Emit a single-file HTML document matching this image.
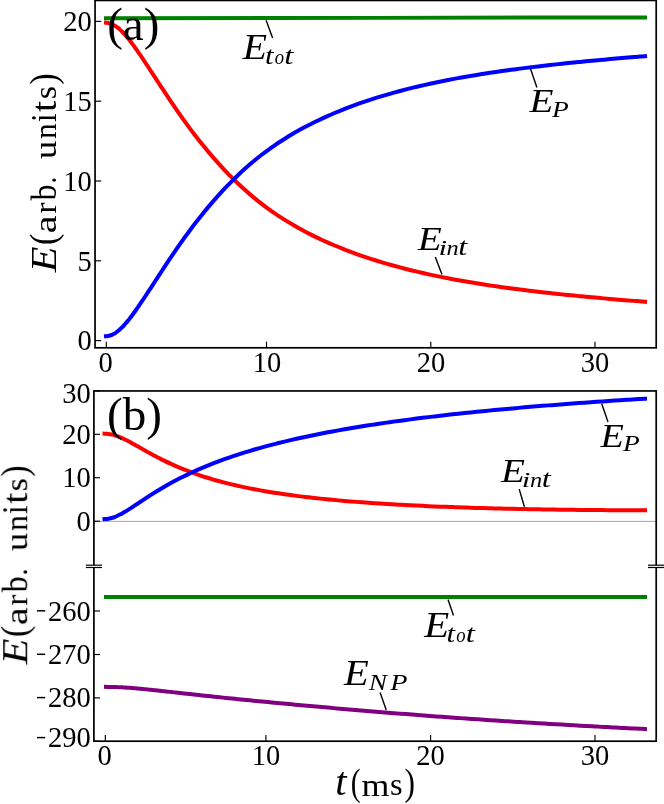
<!DOCTYPE html>
<html><head><meta charset="utf-8"><title>Energy plots</title>
<style>html,body{margin:0;padding:0;background:#fff;}body{width:664px;height:804px;overflow:hidden;}svg{display:block;}text{font-family:"Liberation Serif",serif;fill:#000;}</style>
</head><body>
<svg width="664" height="804" viewBox="0 0 664 804">
<defs><filter id="g" x="0" y="0" width="664" height="804" filterUnits="userSpaceOnUse" color-interpolation-filters="sRGB"><feOffset dx="0" dy="0"/></filter></defs>
<rect x="0" y="0" width="664" height="804" fill="#fff"/>
<g filter="url(#g)">
<path d="M106.00 18.35 C195.83 18.19 555.17 17.56 645.00 17.40" fill="none" stroke="#008000" stroke-width="4.00" stroke-linecap="square" stroke-linejoin="round"/>
<path d="M106.00 22.79 C106.33 22.82 107.33 22.86 108.00 22.96 C108.67 23.07 109.33 23.22 110.00 23.41 C110.67 23.61 111.33 23.86 112.00 24.15 C112.67 24.43 113.33 24.77 114.00 25.14 C114.67 25.52 115.33 25.94 116.00 26.40 C116.67 26.86 117.33 27.36 118.00 27.89 C118.67 28.43 119.33 29.00 120.00 29.61 C120.67 30.21 121.33 30.85 122.00 31.52 C122.67 32.19 123.33 32.89 124.00 33.62 C124.67 34.34 125.33 35.09 126.00 35.87 C126.67 36.65 127.33 37.45 128.00 38.27 C128.67 39.09 129.33 39.93 130.00 40.79 C130.67 41.64 131.33 42.52 132.00 43.41 C132.67 44.30 133.33 45.21 134.00 46.13 C134.67 47.04 135.33 47.98 136.00 48.92 C136.67 49.86 137.33 50.81 138.00 51.78 C138.67 52.74 139.33 53.71 140.00 54.69 C140.67 55.66 141.33 56.65 142.00 57.64 C142.67 58.63 143.33 59.63 144.00 60.63 C144.67 61.63 145.33 62.63 146.00 63.64 C146.67 64.65 147.33 65.66 148.00 66.68 C148.67 67.69 149.33 68.71 150.00 69.73 C150.67 70.75 151.33 71.77 152.00 72.79 C152.67 73.81 153.33 74.83 154.00 75.85 C154.67 76.87 155.33 77.89 156.00 78.92 C156.67 79.94 157.33 80.96 158.00 81.98 C158.67 83.00 159.33 84.02 160.00 85.04 C160.67 86.05 161.33 87.07 162.00 88.09 C162.67 89.10 163.33 90.11 164.00 91.13 C164.67 92.14 164.67 92.15 166.00 94.15 C167.33 96.16 170.00 100.18 172.00 103.13 C174.00 106.09 176.00 109.02 178.00 111.90 C180.00 114.78 182.00 117.61 184.00 120.40 C186.00 123.18 188.00 125.92 190.00 128.60 C192.00 131.29 194.00 133.92 196.00 136.51 C198.00 139.09 200.00 141.62 202.00 144.10 C204.00 146.58 206.00 149.01 208.00 151.40 C210.00 153.78 212.00 156.11 214.00 158.39 C216.00 160.68 218.00 162.92 220.00 165.11 C222.00 167.30 224.00 169.44 226.00 171.54 C228.00 173.63 230.00 175.68 232.00 177.68 C234.00 179.67 236.00 181.62 238.00 183.53 C240.00 185.43 242.00 187.28 244.00 189.09 C246.00 190.90 248.00 192.66 250.00 194.37 C252.00 196.09 254.00 197.75 256.00 199.38 C258.00 201.00 260.00 202.58 262.00 204.12 C264.00 205.65 266.00 207.14 268.00 208.60 C270.00 210.05 272.00 211.46 274.00 212.84 C276.00 214.22 278.00 215.55 280.00 216.86 C282.00 218.17 284.00 219.43 286.00 220.67 C288.00 221.91 290.00 223.12 292.00 224.30 C294.00 225.47 296.00 226.62 298.00 227.74 C300.00 228.86 302.00 229.95 304.00 231.02 C306.00 232.09 308.00 233.12 310.00 234.14 C312.00 235.16 314.00 236.15 316.00 237.12 C318.00 238.09 320.00 239.03 322.00 239.96 C324.00 240.88 326.00 241.78 328.00 242.67 C330.00 243.55 332.00 244.41 334.00 245.26 C336.00 246.10 338.00 246.93 340.00 247.73 C342.00 248.54 344.00 249.33 346.00 250.10 C348.00 250.87 350.00 251.63 352.00 252.37 C354.00 253.11 356.00 253.83 358.00 254.54 C360.00 255.24 362.00 255.94 364.00 256.62 C366.00 257.29 368.00 257.96 370.00 258.61 C372.00 259.26 374.00 259.89 376.00 260.52 C378.00 261.14 380.00 261.75 382.00 262.35 C384.00 262.95 386.00 263.53 388.00 264.11 C390.00 264.68 392.00 265.24 394.00 265.80 C396.00 266.35 398.00 266.89 400.00 267.42 C402.00 267.94 404.00 268.46 406.00 268.97 C408.00 269.48 410.00 269.98 412.00 270.47 C414.00 270.95 416.00 271.43 418.00 271.90 C420.00 272.37 422.00 272.83 424.00 273.28 C426.00 273.73 428.00 274.18 430.00 274.61 C432.00 275.04 434.00 275.47 436.00 275.89 C438.00 276.30 440.00 276.71 442.00 277.11 C444.00 277.51 446.00 277.91 448.00 278.29 C450.00 278.68 452.00 279.06 454.00 279.43 C456.00 279.80 458.00 280.16 460.00 280.52 C462.00 280.88 464.00 281.23 466.00 281.57 C468.00 281.91 470.00 282.25 472.00 282.58 C474.00 282.92 476.00 283.24 478.00 283.56 C480.00 283.88 482.00 284.20 484.00 284.50 C486.00 284.81 488.00 285.12 490.00 285.42 C492.00 285.71 494.00 286.01 496.00 286.30 C498.00 286.59 500.00 286.87 502.00 287.15 C504.00 287.43 506.00 287.70 508.00 287.97 C510.00 288.24 512.00 288.51 514.00 288.77 C516.00 289.03 518.00 289.29 520.00 289.55 C522.00 289.80 524.00 290.05 526.00 290.30 C528.00 290.54 530.00 290.78 532.00 291.02 C534.00 291.26 536.00 291.50 538.00 291.73 C540.00 291.96 542.00 292.19 544.00 292.42 C546.00 292.64 548.00 292.87 550.00 293.09 C552.00 293.31 554.00 293.52 556.00 293.74 C558.00 293.95 560.00 294.16 562.00 294.37 C564.00 294.58 566.00 294.78 568.00 294.99 C570.00 295.19 572.00 295.39 574.00 295.59 C576.00 295.78 578.00 295.98 580.00 296.17 C582.00 296.36 584.00 296.56 586.00 296.74 C588.00 296.93 590.00 297.12 592.00 297.30 C594.00 297.49 596.00 297.67 598.00 297.85 C600.00 298.03 602.00 298.21 604.00 298.38 C606.00 298.56 608.00 298.73 610.00 298.90 C612.00 299.07 614.00 299.24 616.00 299.41 C618.00 299.58 620.00 299.75 622.00 299.91 C624.00 300.08 626.00 300.24 628.00 300.40 C630.00 300.56 632.00 300.72 634.00 300.88 C636.00 301.04 638.17 301.21 640.00 301.35 C641.83 301.50 644.17 301.68 645.00 301.74" fill="none" stroke="#ff0000" stroke-width="4.00" stroke-linecap="square" stroke-linejoin="round"/>
<path d="M106.00 336.16 C106.33 336.13 107.33 336.09 108.00 335.98 C108.67 335.88 109.33 335.73 110.00 335.53 C110.67 335.33 111.33 335.08 112.00 334.79 C112.67 334.50 113.33 334.17 114.00 333.79 C114.67 333.41 115.33 332.99 116.00 332.53 C116.67 332.07 117.33 331.57 118.00 331.04 C118.67 330.50 119.33 329.92 120.00 329.32 C120.67 328.71 121.33 328.07 122.00 327.40 C122.67 326.73 123.33 326.03 124.00 325.30 C124.67 324.58 125.33 323.82 126.00 323.04 C126.67 322.27 127.33 321.46 128.00 320.64 C128.67 319.82 129.33 318.98 130.00 318.12 C130.67 317.26 131.33 316.38 132.00 315.49 C132.67 314.60 133.33 313.69 134.00 312.77 C134.67 311.85 135.33 310.92 136.00 309.98 C136.67 309.03 137.33 308.08 138.00 307.11 C138.67 306.15 139.33 305.18 140.00 304.20 C140.67 303.22 141.33 302.23 142.00 301.24 C142.67 300.25 143.33 299.25 144.00 298.25 C144.67 297.25 145.33 296.24 146.00 295.23 C146.67 294.22 147.33 293.21 148.00 292.19 C148.67 291.18 149.33 290.16 150.00 289.14 C150.67 288.12 151.33 287.10 152.00 286.08 C152.67 285.06 153.33 284.03 154.00 283.01 C154.67 281.99 155.33 280.96 156.00 279.94 C156.67 278.92 157.33 277.90 158.00 276.88 C158.67 275.85 159.33 274.83 160.00 273.81 C160.67 272.80 161.33 271.78 162.00 270.76 C162.67 269.74 163.33 268.73 164.00 267.72 C164.67 266.70 164.67 266.69 166.00 264.68 C167.33 262.68 170.00 258.65 172.00 255.69 C174.00 252.73 176.00 249.80 178.00 246.92 C180.00 244.04 182.00 241.20 184.00 238.41 C186.00 235.62 188.00 232.88 190.00 230.19 C192.00 227.50 194.00 224.86 196.00 222.28 C198.00 219.69 200.00 217.15 202.00 214.67 C204.00 212.18 206.00 209.75 208.00 207.36 C210.00 204.98 212.00 202.64 214.00 200.36 C216.00 198.07 218.00 195.83 220.00 193.63 C222.00 191.44 224.00 189.29 226.00 187.19 C228.00 185.09 230.00 183.04 232.00 181.04 C234.00 179.04 236.00 177.09 238.00 175.18 C240.00 173.27 242.00 171.42 244.00 169.60 C246.00 167.79 248.00 166.03 250.00 164.31 C252.00 162.59 254.00 160.92 256.00 159.29 C258.00 157.67 260.00 156.08 262.00 154.54 C264.00 153.00 266.00 151.51 268.00 150.05 C270.00 148.59 272.00 147.18 274.00 145.80 C276.00 144.42 278.00 143.08 280.00 141.77 C282.00 140.46 284.00 139.19 286.00 137.94 C288.00 136.70 290.00 135.49 292.00 134.31 C294.00 133.13 296.00 131.98 298.00 130.85 C300.00 129.73 302.00 128.63 304.00 127.56 C306.00 126.49 308.00 125.45 310.00 124.43 C312.00 123.41 314.00 122.42 316.00 121.44 C318.00 120.47 320.00 119.52 322.00 118.59 C324.00 117.66 326.00 116.76 328.00 115.87 C330.00 114.98 332.00 114.12 334.00 113.27 C336.00 112.42 338.00 111.59 340.00 110.78 C342.00 109.97 344.00 109.18 346.00 108.40 C348.00 107.63 350.00 106.87 352.00 106.13 C354.00 105.38 356.00 104.66 358.00 103.95 C360.00 103.23 362.00 102.54 364.00 101.86 C366.00 101.17 368.00 100.51 370.00 99.85 C372.00 99.20 374.00 98.56 376.00 97.93 C378.00 97.30 380.00 96.69 382.00 96.09 C384.00 95.49 386.00 94.90 388.00 94.32 C390.00 93.74 392.00 93.18 394.00 92.62 C396.00 92.07 398.00 91.52 400.00 90.99 C402.00 90.46 404.00 89.93 406.00 89.42 C408.00 88.91 410.00 88.41 412.00 87.92 C414.00 87.42 416.00 86.94 418.00 86.47 C420.00 86.00 422.00 85.53 424.00 85.08 C426.00 84.62 428.00 84.18 430.00 83.74 C432.00 83.30 434.00 82.87 436.00 82.45 C438.00 82.03 440.00 81.62 442.00 81.21 C444.00 80.81 446.00 80.41 448.00 80.02 C450.00 79.63 452.00 79.25 454.00 78.88 C456.00 78.50 458.00 78.14 460.00 77.77 C462.00 77.41 464.00 77.06 466.00 76.71 C468.00 76.36 470.00 76.02 472.00 75.69 C474.00 75.35 476.00 75.02 478.00 74.70 C480.00 74.37 482.00 74.06 484.00 73.74 C486.00 73.43 488.00 73.12 490.00 72.82 C492.00 72.52 494.00 72.22 496.00 71.93 C498.00 71.64 500.00 71.35 502.00 71.07 C504.00 70.78 506.00 70.51 508.00 70.23 C510.00 69.96 512.00 69.69 514.00 69.42 C516.00 69.16 518.00 68.89 520.00 68.64 C522.00 68.38 524.00 68.13 526.00 67.88 C528.00 67.63 530.00 67.38 532.00 67.14 C534.00 66.89 536.00 66.65 538.00 66.42 C540.00 66.18 542.00 65.95 544.00 65.72 C546.00 65.49 548.00 65.26 550.00 65.04 C552.00 64.82 554.00 64.60 556.00 64.38 C558.00 64.16 560.00 63.95 562.00 63.74 C564.00 63.52 566.00 63.31 568.00 63.11 C570.00 62.90 572.00 62.70 574.00 62.50 C576.00 62.29 578.00 62.10 580.00 61.90 C582.00 61.70 584.00 61.51 586.00 61.32 C588.00 61.12 590.00 60.93 592.00 60.75 C594.00 60.56 596.00 60.37 598.00 60.19 C600.00 60.01 602.00 59.82 604.00 59.65 C606.00 59.47 608.00 59.29 610.00 59.11 C612.00 58.94 614.00 58.76 616.00 58.59 C618.00 58.42 620.00 58.25 622.00 58.08 C624.00 57.91 626.00 57.74 628.00 57.58 C630.00 57.41 632.00 57.25 634.00 57.09 C636.00 56.93 638.17 56.75 640.00 56.61 C641.83 56.46 644.17 56.28 645.00 56.21" fill="none" stroke="#0000ff" stroke-width="4.00" stroke-linecap="square" stroke-linejoin="round"/>
<rect x="95.05" y="0.45" width="561.15" height="347.35" fill="none" stroke="#000" stroke-width="1.70"/>
<line x1="106.30" y1="347.80" x2="106.30" y2="341.65" stroke="#000" stroke-width="1.15"/>
<line x1="266.50" y1="347.80" x2="266.50" y2="341.65" stroke="#000" stroke-width="1.15"/>
<line x1="430.80" y1="347.80" x2="430.80" y2="341.65" stroke="#000" stroke-width="1.15"/>
<line x1="595.00" y1="347.80" x2="595.00" y2="341.65" stroke="#000" stroke-width="1.15"/>
<line x1="95.05" y1="340.60" x2="101.20" y2="340.60" stroke="#000" stroke-width="1.15"/>
<line x1="95.05" y1="260.80" x2="101.20" y2="260.80" stroke="#000" stroke-width="1.15"/>
<line x1="95.05" y1="181.00" x2="101.20" y2="181.00" stroke="#000" stroke-width="1.15"/>
<line x1="95.05" y1="101.20" x2="101.20" y2="101.20" stroke="#000" stroke-width="1.15"/>
<line x1="95.05" y1="21.40" x2="101.20" y2="21.40" stroke="#000" stroke-width="1.15"/>
<text x="105.70" y="371.50" font-size="28.50" text-anchor="middle">0</text>
<text x="267.00" y="371.50" font-size="28.50" text-anchor="middle">10</text>
<text x="431.00" y="371.50" font-size="28.50" text-anchor="middle">20</text>
<text x="595.00" y="371.50" font-size="28.50" text-anchor="middle">30</text>
<text x="91.80" y="350.40" font-size="28.50" text-anchor="end">0</text>
<text x="91.80" y="270.60" font-size="28.50" text-anchor="end">5</text>
<text x="91.80" y="190.80" font-size="28.50" text-anchor="end">10</text>
<text x="91.80" y="111.00" font-size="28.50" text-anchor="end">15</text>
<text x="91.80" y="31.20" font-size="28.50" text-anchor="end">20</text>
<text x="107.2" y="39.6" font-size="47">(a)</text>
<line x1="93.90" y1="521.4" x2="656.20" y2="521.4" stroke="#a6a6a6" stroke-width="1.0"/>
<path d="M106.00 597.10 C195.83 597.08 555.17 596.98 645.00 596.95" fill="none" stroke="#008000" stroke-width="4.00" stroke-linecap="square" stroke-linejoin="round"/>
<path d="M106.00 686.87 C106.33 686.87 107.33 686.88 108.00 686.88 C108.67 686.88 109.33 686.89 110.00 686.90 C110.67 686.91 111.33 686.92 112.00 686.93 C112.67 686.95 113.33 686.97 114.00 686.99 C114.67 687.00 115.33 687.03 116.00 687.05 C116.67 687.07 117.33 687.10 118.00 687.13 C118.67 687.16 119.33 687.19 120.00 687.22 C120.67 687.25 121.33 687.29 122.00 687.33 C122.67 687.36 123.33 687.40 124.00 687.44 C124.67 687.48 125.33 687.53 126.00 687.57 C126.67 687.62 127.33 687.66 128.00 687.71 C128.67 687.76 129.33 687.81 130.00 687.86 C130.67 687.91 131.33 687.97 132.00 688.02 C132.67 688.08 133.33 688.13 134.00 688.19 C134.67 688.25 135.33 688.30 136.00 688.36 C136.67 688.42 137.33 688.48 138.00 688.54 C138.67 688.60 139.33 688.67 140.00 688.73 C140.67 688.79 141.33 688.86 142.00 688.92 C142.67 688.99 143.33 689.05 144.00 689.12 C144.67 689.18 145.33 689.25 146.00 689.32 C146.67 689.38 147.33 689.45 148.00 689.52 C148.67 689.59 149.33 689.66 150.00 689.73 C150.67 689.80 151.33 689.87 152.00 689.94 C152.67 690.01 153.33 690.08 154.00 690.15 C154.67 690.22 155.33 690.29 156.00 690.36 C156.67 690.43 157.33 690.51 158.00 690.58 C158.67 690.65 159.33 690.72 160.00 690.79 C160.67 690.87 161.33 690.94 162.00 691.01 C162.67 691.08 163.33 691.16 164.00 691.23 C164.67 691.30 164.67 691.30 166.00 691.45 C167.33 691.60 170.00 691.89 172.00 692.11 C174.00 692.33 176.00 692.55 178.00 692.78 C180.00 693.00 182.00 693.22 184.00 693.44 C186.00 693.66 188.00 693.88 190.00 694.10 C192.00 694.31 194.00 694.53 196.00 694.75 C198.00 694.97 200.00 695.18 202.00 695.40 C204.00 695.61 206.00 695.83 208.00 696.04 C210.00 696.25 212.00 696.47 214.00 696.68 C216.00 696.89 218.00 697.10 220.00 697.30 C222.00 697.51 224.00 697.72 226.00 697.93 C228.00 698.13 230.00 698.34 232.00 698.54 C234.00 698.74 236.00 698.95 238.00 699.15 C240.00 699.35 242.00 699.55 244.00 699.75 C246.00 699.95 248.00 700.15 250.00 700.35 C252.00 700.54 254.00 700.74 256.00 700.93 C258.00 701.13 260.00 701.32 262.00 701.52 C264.00 701.71 266.00 701.90 268.00 702.10 C270.00 702.29 272.00 702.48 274.00 702.67 C276.00 702.86 278.00 703.05 280.00 703.24 C282.00 703.42 284.00 703.61 286.00 703.80 C288.00 703.99 290.00 704.17 292.00 704.36 C294.00 704.54 296.00 704.73 298.00 704.91 C300.00 705.09 302.00 705.28 304.00 705.46 C306.00 705.64 308.00 705.82 310.00 706.00 C312.00 706.18 314.00 706.36 316.00 706.54 C318.00 706.72 320.00 706.90 322.00 707.07 C324.00 707.25 326.00 707.43 328.00 707.60 C330.00 707.78 332.00 707.96 334.00 708.13 C336.00 708.30 338.00 708.48 340.00 708.65 C342.00 708.82 344.00 709.00 346.00 709.17 C348.00 709.34 350.00 709.51 352.00 709.68 C354.00 709.85 356.00 710.02 358.00 710.19 C360.00 710.36 362.00 710.53 364.00 710.70 C366.00 710.87 368.00 711.03 370.00 711.20 C372.00 711.37 374.00 711.53 376.00 711.70 C378.00 711.86 380.00 712.02 382.00 712.19 C384.00 712.35 386.00 712.51 388.00 712.67 C390.00 712.84 392.00 713.00 394.00 713.16 C396.00 713.32 398.00 713.47 400.00 713.63 C402.00 713.79 404.00 713.95 406.00 714.10 C408.00 714.26 410.00 714.42 412.00 714.57 C414.00 714.73 416.00 714.88 418.00 715.03 C420.00 715.19 422.00 715.34 424.00 715.49 C426.00 715.64 428.00 715.79 430.00 715.94 C432.00 716.09 434.00 716.24 436.00 716.39 C438.00 716.53 440.00 716.68 442.00 716.83 C444.00 716.97 446.00 717.12 448.00 717.26 C450.00 717.41 452.00 717.55 454.00 717.69 C456.00 717.83 458.00 717.98 460.00 718.12 C462.00 718.26 464.00 718.40 466.00 718.54 C468.00 718.68 470.00 718.82 472.00 718.95 C474.00 719.09 476.00 719.23 478.00 719.36 C480.00 719.50 482.00 719.63 484.00 719.77 C486.00 719.90 488.00 720.04 490.00 720.17 C492.00 720.30 494.00 720.43 496.00 720.57 C498.00 720.70 500.00 720.83 502.00 720.96 C504.00 721.09 506.00 721.21 508.00 721.34 C510.00 721.47 512.00 721.60 514.00 721.73 C516.00 721.85 518.00 721.98 520.00 722.10 C522.00 722.23 524.00 722.35 526.00 722.48 C528.00 722.60 530.00 722.72 532.00 722.84 C534.00 722.97 536.00 723.09 538.00 723.21 C540.00 723.33 542.00 723.45 544.00 723.57 C546.00 723.69 548.00 723.81 550.00 723.92 C552.00 724.04 554.00 724.16 556.00 724.27 C558.00 724.39 560.00 724.51 562.00 724.62 C564.00 724.74 566.00 724.85 568.00 724.96 C570.00 725.08 572.00 725.19 574.00 725.30 C576.00 725.42 578.00 725.53 580.00 725.64 C582.00 725.75 584.00 725.86 586.00 725.97 C588.00 726.08 590.00 726.19 592.00 726.30 C594.00 726.41 596.00 726.51 598.00 726.62 C600.00 726.73 602.00 726.84 604.00 726.94 C606.00 727.05 608.00 727.15 610.00 727.26 C612.00 727.36 614.00 727.47 616.00 727.57 C618.00 727.67 620.00 727.78 622.00 727.88 C624.00 727.98 626.00 728.08 628.00 728.18 C630.00 728.29 632.00 728.39 634.00 728.49 C636.00 728.59 638.17 728.69 640.00 728.78 C641.83 728.88 644.17 728.99 645.00 729.03" fill="none" stroke="#800080" stroke-width="4.00" stroke-linecap="square" stroke-linejoin="round"/>
<path d="M104.50 433.63 C104.83 433.64 105.83 433.66 106.50 433.70 C107.17 433.75 107.83 433.81 108.50 433.90 C109.17 433.99 109.83 434.10 110.50 434.23 C111.17 434.36 111.83 434.51 112.50 434.67 C113.17 434.84 113.83 435.02 114.50 435.23 C115.17 435.43 115.83 435.65 116.50 435.88 C117.17 436.11 117.83 436.36 118.50 436.62 C119.17 436.88 119.83 437.15 120.50 437.44 C121.17 437.72 121.83 438.02 122.50 438.33 C123.17 438.63 123.83 438.95 124.50 439.27 C125.17 439.60 125.83 439.93 126.50 440.27 C127.17 440.61 127.83 440.96 128.50 441.31 C129.17 441.66 129.83 442.02 130.50 442.38 C131.17 442.74 131.83 443.11 132.50 443.48 C133.17 443.84 133.83 444.22 134.50 444.59 C135.17 444.97 135.83 445.34 136.50 445.72 C137.17 446.10 137.83 446.48 138.50 446.86 C139.17 447.23 139.83 447.61 140.50 447.99 C141.17 448.37 141.83 448.75 142.50 449.13 C143.17 449.50 143.83 449.88 144.50 450.26 C145.17 450.63 145.83 451.00 146.50 451.38 C147.17 451.75 147.83 452.12 148.50 452.49 C149.17 452.85 149.83 453.22 150.50 453.58 C151.17 453.95 151.83 454.31 152.50 454.67 C153.17 455.03 153.83 455.38 154.50 455.74 C155.17 456.09 155.83 456.44 156.50 456.79 C157.17 457.14 157.83 457.48 158.50 457.82 C159.17 458.17 159.83 458.51 160.50 458.84 C161.17 459.18 161.83 459.51 162.50 459.84 C163.17 460.17 163.17 460.19 164.50 460.83 C165.83 461.47 168.50 462.75 170.50 463.67 C172.50 464.59 174.50 465.49 176.50 466.35 C178.50 467.22 180.50 468.06 182.50 468.87 C184.50 469.69 186.50 470.47 188.50 471.24 C190.50 472.00 192.50 472.74 194.50 473.46 C196.50 474.17 198.50 474.86 200.50 475.53 C202.50 476.20 204.50 476.85 206.50 477.48 C208.50 478.11 210.50 478.71 212.50 479.30 C214.50 479.89 216.50 480.46 218.50 481.01 C220.50 481.56 222.50 482.09 224.50 482.61 C226.50 483.13 228.50 483.63 230.50 484.12 C232.50 484.60 234.50 485.07 236.50 485.53 C238.50 485.99 240.50 486.43 242.50 486.86 C244.50 487.29 246.50 487.70 248.50 488.11 C250.50 488.51 252.50 488.90 254.50 489.28 C256.50 489.66 258.50 490.03 260.50 490.39 C262.50 490.75 264.50 491.10 266.50 491.44 C268.50 491.77 270.50 492.10 272.50 492.42 C274.50 492.74 276.50 493.05 278.50 493.35 C280.50 493.65 282.50 493.95 284.50 494.23 C286.50 494.52 288.50 494.80 290.50 495.07 C292.50 495.34 294.50 495.60 296.50 495.86 C298.50 496.11 300.50 496.36 302.50 496.61 C304.50 496.85 306.50 497.08 308.50 497.32 C310.50 497.55 312.50 497.77 314.50 497.99 C316.50 498.21 318.50 498.42 320.50 498.63 C322.50 498.84 324.50 499.04 326.50 499.24 C328.50 499.44 330.50 499.63 332.50 499.82 C334.50 500.01 336.50 500.19 338.50 500.37 C340.50 500.55 342.50 500.73 344.50 500.90 C346.50 501.07 348.50 501.23 350.50 501.40 C352.50 501.56 354.50 501.72 356.50 501.87 C358.50 502.03 360.50 502.18 362.50 502.33 C364.50 502.48 366.50 502.62 368.50 502.76 C370.50 502.90 372.50 503.04 374.50 503.17 C376.50 503.31 378.50 503.44 380.50 503.57 C382.50 503.70 384.50 503.82 386.50 503.94 C388.50 504.07 390.50 504.19 392.50 504.30 C394.50 504.42 396.50 504.53 398.50 504.64 C400.50 504.76 402.50 504.86 404.50 504.97 C406.50 505.08 408.50 505.18 410.50 505.28 C412.50 505.38 414.50 505.48 416.50 505.58 C418.50 505.68 420.50 505.77 422.50 505.86 C424.50 505.96 426.50 506.05 428.50 506.13 C430.50 506.22 432.50 506.31 434.50 506.39 C436.50 506.48 438.50 506.56 440.50 506.64 C442.50 506.72 444.50 506.80 446.50 506.87 C448.50 506.95 450.50 507.02 452.50 507.10 C454.50 507.17 456.50 507.24 458.50 507.31 C460.50 507.38 462.50 507.45 464.50 507.51 C466.50 507.58 468.50 507.64 470.50 507.71 C472.50 507.77 474.50 507.83 476.50 507.89 C478.50 507.95 480.50 508.01 482.50 508.06 C484.50 508.12 486.50 508.18 488.50 508.23 C490.50 508.28 492.50 508.34 494.50 508.39 C496.50 508.44 498.50 508.49 500.50 508.54 C502.50 508.59 504.50 508.64 506.50 508.68 C508.50 508.73 510.50 508.77 512.50 508.82 C514.50 508.86 516.50 508.90 518.50 508.94 C520.50 508.99 522.50 509.03 524.50 509.07 C526.50 509.10 528.50 509.14 530.50 509.18 C532.50 509.22 534.50 509.25 536.50 509.29 C538.50 509.32 540.50 509.36 542.50 509.39 C544.50 509.42 546.50 509.45 548.50 509.49 C550.50 509.52 552.50 509.55 554.50 509.58 C556.50 509.60 558.50 509.63 560.50 509.66 C562.50 509.69 564.50 509.71 566.50 509.74 C568.50 509.76 570.50 509.79 572.50 509.81 C574.50 509.84 576.50 509.86 578.50 509.88 C580.50 509.90 582.50 509.92 584.50 509.95 C586.50 509.97 588.50 509.99 590.50 510.00 C592.50 510.02 594.50 510.04 596.50 510.06 C598.50 510.08 600.50 510.09 602.50 510.11 C604.50 510.13 606.50 510.14 608.50 510.15 C610.50 510.17 612.50 510.18 614.50 510.20 C616.50 510.21 618.50 510.22 620.50 510.23 C622.50 510.25 624.50 510.26 626.50 510.27 C628.50 510.28 630.50 510.29 632.50 510.30 C634.50 510.31 636.50 510.32 638.50 510.32 C640.50 510.33 643.42 510.34 644.50 510.35 C645.58 510.35 644.92 510.35 645.00 510.35" fill="none" stroke="#ff0000" stroke-width="4.00" stroke-linecap="square" stroke-linejoin="round"/>
<path d="M104.50 519.05 C104.83 519.03 105.83 519.02 106.50 518.96 C107.17 518.91 107.83 518.82 108.50 518.71 C109.17 518.60 109.83 518.46 110.50 518.29 C111.17 518.13 111.83 517.94 112.50 517.73 C113.17 517.52 113.83 517.29 114.50 517.04 C115.17 516.78 115.83 516.51 116.50 516.22 C117.17 515.93 117.83 515.62 118.50 515.30 C119.17 514.98 119.83 514.64 120.50 514.29 C121.17 513.94 121.83 513.57 122.50 513.20 C123.17 512.82 123.83 512.44 124.50 512.04 C125.17 511.65 125.83 511.25 126.50 510.84 C127.17 510.43 127.83 510.02 128.50 509.60 C129.17 509.18 129.83 508.75 130.50 508.32 C131.17 507.89 131.83 507.46 132.50 507.02 C133.17 506.58 133.83 506.14 134.50 505.70 C135.17 505.26 135.83 504.82 136.50 504.38 C137.17 503.94 137.83 503.49 138.50 503.05 C139.17 502.61 139.83 502.16 140.50 501.72 C141.17 501.28 141.83 500.84 142.50 500.40 C143.17 499.96 143.83 499.52 144.50 499.08 C145.17 498.64 145.83 498.21 146.50 497.77 C147.17 497.34 147.83 496.91 148.50 496.48 C149.17 496.05 149.83 495.62 150.50 495.19 C151.17 494.77 151.83 494.34 152.50 493.92 C153.17 493.50 153.83 493.09 154.50 492.67 C155.17 492.26 155.83 491.84 156.50 491.43 C157.17 491.03 157.83 490.62 158.50 490.22 C159.17 489.81 159.83 489.41 160.50 489.01 C161.17 488.62 161.83 488.22 162.50 487.83 C163.17 487.44 163.17 487.42 164.50 486.67 C165.83 485.91 168.50 484.38 170.50 483.28 C172.50 482.18 174.50 481.10 176.50 480.05 C178.50 479.01 180.50 477.98 182.50 476.99 C184.50 475.99 186.50 475.02 188.50 474.07 C190.50 473.12 192.50 472.19 194.50 471.29 C196.50 470.38 198.50 469.50 200.50 468.64 C202.50 467.78 204.50 466.94 206.50 466.12 C208.50 465.30 210.50 464.50 212.50 463.71 C214.50 462.93 216.50 462.16 218.50 461.41 C220.50 460.66 222.50 459.93 224.50 459.21 C226.50 458.50 228.50 457.80 230.50 457.11 C232.50 456.43 234.50 455.75 236.50 455.10 C238.50 454.44 240.50 453.80 242.50 453.17 C244.50 452.53 246.50 451.92 248.50 451.31 C250.50 450.71 252.50 450.11 254.50 449.53 C256.50 448.95 258.50 448.38 260.50 447.82 C262.50 447.26 264.50 446.71 266.50 446.17 C268.50 445.63 270.50 445.11 272.50 444.59 C274.50 444.07 276.50 443.56 278.50 443.06 C280.50 442.56 282.50 442.07 284.50 441.59 C286.50 441.10 288.50 440.63 290.50 440.16 C292.50 439.70 294.50 439.24 296.50 438.79 C298.50 438.34 300.50 437.90 302.50 437.46 C304.50 437.03 306.50 436.60 308.50 436.18 C310.50 435.76 312.50 435.34 314.50 434.94 C316.50 434.53 318.50 434.13 320.50 433.74 C322.50 433.34 324.50 432.95 326.50 432.57 C328.50 432.19 330.50 431.81 332.50 431.44 C334.50 431.07 336.50 430.71 338.50 430.35 C340.50 429.99 342.50 429.64 344.50 429.29 C346.50 428.94 348.50 428.59 350.50 428.26 C352.50 427.92 354.50 427.58 356.50 427.25 C358.50 426.93 360.50 426.60 362.50 426.28 C364.50 425.96 366.50 425.65 368.50 425.33 C370.50 425.02 372.50 424.72 374.50 424.41 C376.50 424.11 378.50 423.81 380.50 423.52 C382.50 423.22 384.50 422.93 386.50 422.64 C388.50 422.36 390.50 422.07 392.50 421.79 C394.50 421.51 396.50 421.24 398.50 420.96 C400.50 420.69 402.50 420.42 404.50 420.16 C406.50 419.89 408.50 419.63 410.50 419.37 C412.50 419.11 414.50 418.85 416.50 418.60 C418.50 418.35 420.50 418.10 422.50 417.85 C424.50 417.60 426.50 417.36 428.50 417.12 C430.50 416.87 432.50 416.64 434.50 416.40 C436.50 416.16 438.50 415.93 440.50 415.70 C442.50 415.47 444.50 415.24 446.50 415.02 C448.50 414.79 450.50 414.57 452.50 414.35 C454.50 414.13 456.50 413.91 458.50 413.70 C460.50 413.48 462.50 413.27 464.50 413.06 C466.50 412.85 468.50 412.64 470.50 412.43 C472.50 412.22 474.50 412.02 476.50 411.82 C478.50 411.62 480.50 411.42 482.50 411.22 C484.50 411.02 486.50 410.83 488.50 410.63 C490.50 410.44 492.50 410.25 494.50 410.06 C496.50 409.87 498.50 409.68 500.50 409.50 C502.50 409.31 504.50 409.13 506.50 408.94 C508.50 408.76 510.50 408.58 512.50 408.40 C514.50 408.22 516.50 408.05 518.50 407.87 C520.50 407.70 522.50 407.53 524.50 407.35 C526.50 407.18 528.50 407.01 530.50 406.84 C532.50 406.68 534.50 406.51 536.50 406.34 C538.50 406.18 540.50 406.02 542.50 405.85 C544.50 405.69 546.50 405.53 548.50 405.37 C550.50 405.21 552.50 405.06 554.50 404.90 C556.50 404.75 558.50 404.59 560.50 404.44 C562.50 404.29 564.50 404.13 566.50 403.98 C568.50 403.83 570.50 403.68 572.50 403.54 C574.50 403.39 576.50 403.24 578.50 403.10 C580.50 402.95 582.50 402.81 584.50 402.67 C586.50 402.53 588.50 402.38 590.50 402.24 C592.50 402.10 594.50 401.97 596.50 401.83 C598.50 401.69 600.50 401.55 602.50 401.42 C604.50 401.28 606.50 401.15 608.50 401.02 C610.50 400.89 612.50 400.75 614.50 400.62 C616.50 400.49 618.50 400.36 620.50 400.24 C622.50 400.11 624.50 399.98 626.50 399.85 C628.50 399.73 630.50 399.60 632.50 399.48 C634.50 399.36 636.50 399.23 638.50 399.11 C640.50 398.99 643.42 398.81 644.50 398.75 C645.58 398.68 644.92 398.72 645.00 398.72" fill="none" stroke="#0000ff" stroke-width="4.00" stroke-linecap="square" stroke-linejoin="round"/>
<rect x="93.90" y="390.95" width="562.30" height="350.25" fill="none" stroke="#000" stroke-width="1.70"/>
<rect x="92.40" y="565.2" width="3.00" height="2.3" fill="#fff"/>
<line x1="85.90" y1="565.20" x2="102.00" y2="565.20" stroke="#000" stroke-width="1.2"/>
<line x1="85.90" y1="567.50" x2="102.00" y2="567.50" stroke="#000" stroke-width="1.2"/>
<rect x="654.70" y="565.2" width="3.00" height="2.3" fill="#fff"/>
<line x1="648.00" y1="565.20" x2="664.00" y2="565.20" stroke="#000" stroke-width="1.2"/>
<line x1="648.00" y1="567.50" x2="664.00" y2="567.50" stroke="#000" stroke-width="1.2"/>
<line x1="105.30" y1="741.20" x2="105.30" y2="735.05" stroke="#000" stroke-width="1.15"/>
<line x1="265.90" y1="741.20" x2="265.90" y2="735.05" stroke="#000" stroke-width="1.15"/>
<line x1="430.60" y1="741.20" x2="430.60" y2="735.05" stroke="#000" stroke-width="1.15"/>
<line x1="595.00" y1="741.20" x2="595.00" y2="735.05" stroke="#000" stroke-width="1.15"/>
<line x1="93.90" y1="390.85" x2="100.05" y2="390.85" stroke="#000" stroke-width="1.15"/>
<line x1="93.90" y1="434.30" x2="100.05" y2="434.30" stroke="#000" stroke-width="1.15"/>
<line x1="93.90" y1="477.70" x2="100.05" y2="477.70" stroke="#000" stroke-width="1.15"/>
<line x1="93.90" y1="521.20" x2="100.05" y2="521.20" stroke="#000" stroke-width="1.15"/>
<line x1="93.90" y1="611.00" x2="100.05" y2="611.00" stroke="#000" stroke-width="1.15"/>
<line x1="93.90" y1="654.50" x2="100.05" y2="654.50" stroke="#000" stroke-width="1.15"/>
<line x1="93.90" y1="697.90" x2="100.05" y2="697.90" stroke="#000" stroke-width="1.15"/>
<line x1="93.90" y1="741.20" x2="100.05" y2="741.20" stroke="#000" stroke-width="1.15"/>
<text x="104.50" y="765.00" font-size="28.50" text-anchor="middle">0</text>
<text x="266.00" y="765.00" font-size="28.50" text-anchor="middle">10</text>
<text x="430.60" y="765.00" font-size="28.50" text-anchor="middle">20</text>
<text x="595.00" y="765.00" font-size="28.50" text-anchor="middle">30</text>
<text x="90.80" y="402.80" font-size="28.50" text-anchor="end">30</text>
<text x="90.80" y="443.90" font-size="28.50" text-anchor="end">20</text>
<text x="90.80" y="487.40" font-size="28.50" text-anchor="end">10</text>
<text x="90.80" y="530.80" font-size="28.50" text-anchor="end">0</text>
<text x="90.80" y="620.50" font-size="28.50" text-anchor="end">260</text>
<line x1="37.0" y1="610.80" x2="45.2" y2="610.80" stroke="#000" stroke-width="1.5"/>
<text x="90.80" y="664.00" font-size="28.50" text-anchor="end">270</text>
<line x1="37.0" y1="654.30" x2="45.2" y2="654.30" stroke="#000" stroke-width="1.5"/>
<text x="90.80" y="707.30" font-size="28.50" text-anchor="end">280</text>
<line x1="37.0" y1="697.60" x2="45.2" y2="697.60" stroke="#000" stroke-width="1.5"/>
<text x="90.80" y="747.30" font-size="28.50" text-anchor="end">290</text>
<line x1="37.0" y1="737.60" x2="45.2" y2="737.60" stroke="#000" stroke-width="1.5"/>
<text x="107.0" y="429.6" font-size="47">(b)</text>
<g transform="translate(56.10 273.10) rotate(-90)">
<text transform="matrix(0.4221 0 0 0.3658 0.74 0.00)" font-size="100" font-style="italic">E</text>
<text transform="matrix(0.3387 0 0 0.3832 28.06 -0.16)" font-size="100">(</text>
<text transform="matrix(0.4000 0 0 0.3246 39.94 -0.02)" font-size="100">a</text>
<text transform="matrix(0.3287 0 0 0.3236 59.59 0.00)" font-size="100">r</text>
<text transform="matrix(0.3204 0 0 0.3503 72.65 -0.04)" font-size="100">b</text>
<text transform="matrix(0.2877 0 0 0.3174 89.45 -0.15)" font-size="100">.</text>
<text transform="matrix(0.3662 0 0 0.3253 114.07 -0.02)" font-size="100">u</text>
<text transform="matrix(0.3139 0 0 0.3236 134.13 0.00)" font-size="100">n</text>
<text transform="matrix(0.3112 0 0 0.3527 151.10 0.00)" font-size="100">i</text>
<text transform="matrix(0.4043 0 0 0.3675 161.16 -0.06)" font-size="100">t</text>
<text transform="matrix(0.3397 0 0 0.3233 173.86 -0.02)" font-size="100">s</text>
<text transform="matrix(0.3348 0 0 0.3832 188.57 -0.16)" font-size="100">)</text>
</g>
<g transform="translate(27.20 665.10) rotate(-90)">
<text transform="matrix(0.4221 0 0 0.3658 0.74 0.00)" font-size="100" font-style="italic">E</text>
<text transform="matrix(0.3387 0 0 0.3832 28.06 -0.16)" font-size="100">(</text>
<text transform="matrix(0.4000 0 0 0.3246 39.94 -0.02)" font-size="100">a</text>
<text transform="matrix(0.3287 0 0 0.3236 59.59 0.00)" font-size="100">r</text>
<text transform="matrix(0.3204 0 0 0.3503 72.65 -0.04)" font-size="100">b</text>
<text transform="matrix(0.2877 0 0 0.3174 89.45 -0.15)" font-size="100">.</text>
<text transform="matrix(0.3662 0 0 0.3253 114.07 -0.02)" font-size="100">u</text>
<text transform="matrix(0.3139 0 0 0.3236 134.13 0.00)" font-size="100">n</text>
<text transform="matrix(0.3112 0 0 0.3527 151.10 0.00)" font-size="100">i</text>
<text transform="matrix(0.4043 0 0 0.3675 161.16 -0.06)" font-size="100">t</text>
<text transform="matrix(0.3397 0 0 0.3233 173.86 -0.02)" font-size="100">s</text>
<text transform="matrix(0.3348 0 0 0.3832 188.57 -0.16)" font-size="100">)</text>
</g>
<text transform="matrix(0.4057 0 0 0.3955 335.27 795.41)" font-size="100" font-style="italic">t</text>
<text transform="matrix(0.2959 0 0 0.3866 350.65 795.47)" font-size="100">(</text>
<text transform="matrix(0.3589 0 0 0.3236 361.40 795.50)" font-size="100">m</text>
<text transform="matrix(0.3237 0 0 0.3233 389.92 795.48)" font-size="100">s</text>
<text transform="matrix(0.3154 0 0 0.3866 404.43 795.47)" font-size="100">)</text>
<line x1="266.10" y1="20.20" x2="272.60" y2="38.00" stroke="#000" stroke-width="1.4"/>
<text transform="matrix(0.3974 0 0 0.3497 242.77 59.00)" font-size="100" font-style="italic">E</text>
<text transform="matrix(0.3072 0 0 0.2540 265.05 63.80)" font-size="100" font-style="italic">t</text>
<text transform="matrix(0.1862 0 0 0.2006 274.85 63.85)" font-size="100" font-style="italic">o</text>
<text transform="matrix(0.3269 0 0 0.2540 284.36 63.80)" font-size="100" font-style="italic">t</text>
<line x1="530.50" y1="68.75" x2="536.90" y2="87.50" stroke="#000" stroke-width="1.4"/>
<text transform="matrix(0.3925 0 0 0.3452 529.46 112.30)" font-size="100" font-style="italic">E</text>
<text transform="matrix(0.2742 0 0 0.2260 552.05 117.10)" font-size="100" font-style="italic">P</text>
<line x1="435.30" y1="256.90" x2="442.00" y2="274.50" stroke="#000" stroke-width="1.4"/>
<text transform="matrix(0.3925 0 0 0.3452 417.66 249.70)" font-size="100" font-style="italic">E</text>
<text transform="matrix(0.3075 0 0 0.2160 438.39 254.50)" font-size="100" font-style="italic">i</text>
<text transform="matrix(0.2436 0 0 0.1995 446.53 254.50)" font-size="100" font-style="italic">n</text>
<text transform="matrix(0.3230 0 0 0.2540 458.28 254.50)" font-size="100" font-style="italic">t</text>
<line x1="601.75" y1="403.75" x2="608.00" y2="422.00" stroke="#000" stroke-width="1.4"/>
<text transform="matrix(0.3826 0 0 0.3452 600.45 446.50)" font-size="100" font-style="italic">E</text>
<text transform="matrix(0.2742 0 0 0.2260 623.05 451.30)" font-size="100" font-style="italic">P</text>
<line x1="519.20" y1="489.10" x2="524.40" y2="506.70" stroke="#000" stroke-width="1.4"/>
<text transform="matrix(0.3925 0 0 0.3452 501.01 482.40)" font-size="100" font-style="italic">E</text>
<text transform="matrix(0.3075 0 0 0.2160 521.74 487.20)" font-size="100" font-style="italic">i</text>
<text transform="matrix(0.2436 0 0 0.1995 529.88 487.20)" font-size="100" font-style="italic">n</text>
<text transform="matrix(0.3230 0 0 0.2540 541.63 487.20)" font-size="100" font-style="italic">t</text>
<line x1="448.00" y1="599.50" x2="453.50" y2="615.60" stroke="#000" stroke-width="1.4"/>
<text transform="matrix(0.4089 0 0 0.3620 424.18 636.50)" font-size="100" font-style="italic">E</text>
<text transform="matrix(0.3072 0 0 0.2540 446.55 641.80)" font-size="100" font-style="italic">t</text>
<text transform="matrix(0.1862 0 0 0.2006 456.35 641.85)" font-size="100" font-style="italic">o</text>
<text transform="matrix(0.3269 0 0 0.2540 465.86 641.80)" font-size="100" font-style="italic">t</text>
<line x1="380.10" y1="692.40" x2="386.25" y2="710.00" stroke="#000" stroke-width="1.4"/>
<text transform="matrix(0.4056 0 0 0.3558 343.88 684.80)" font-size="100" font-style="italic">E</text>
<text transform="matrix(0.2733 0 0 0.2291 368.70 689.60)" font-size="100" font-style="italic">N</text>
<text transform="matrix(0.2827 0 0 0.2291 390.35 689.60)" font-size="100" font-style="italic">P</text>
</g>
</svg></body></html>
